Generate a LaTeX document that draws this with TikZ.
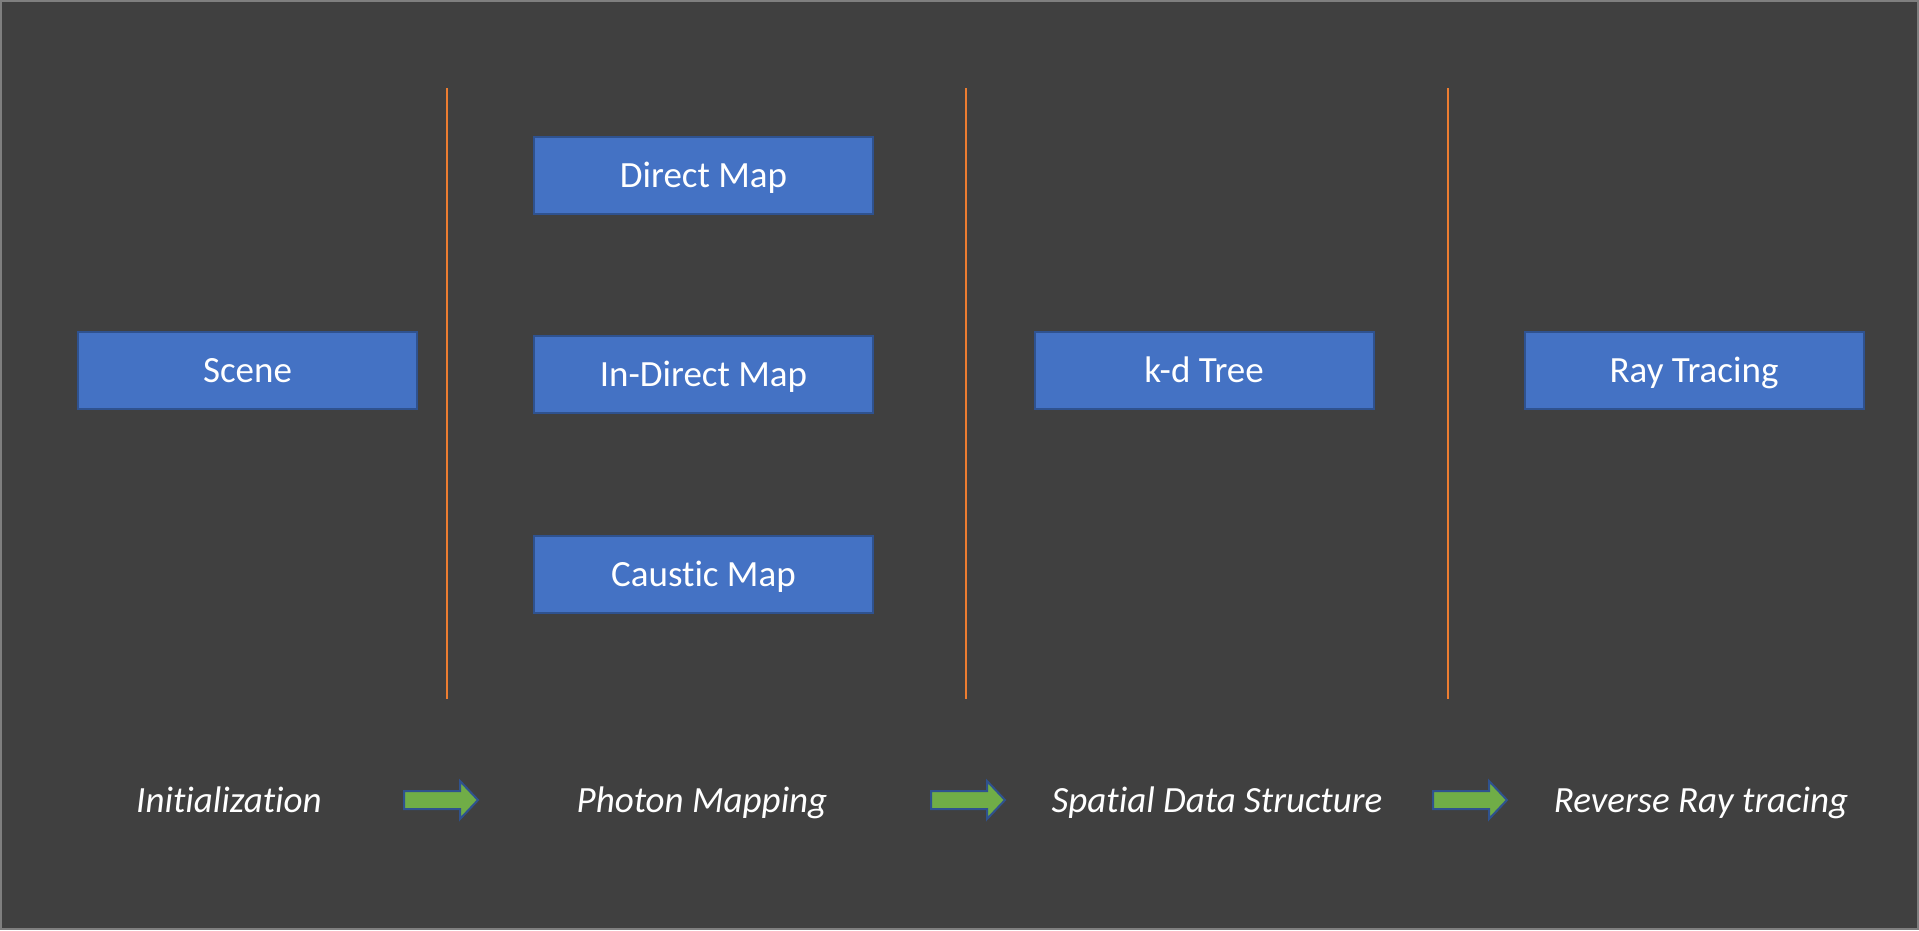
\documentclass[tikz,border=0pt]{standalone}
\usepackage{fontspec}
\setmainfont{Carlito}[Ligatures=NoCommon]
\definecolor{bg}{HTML}{404040}
\definecolor{frame}{HTML}{7F7F7F}
\definecolor{boxfill}{HTML}{4472C4}
\definecolor{boxline}{HTML}{2F528F}
\definecolor{arrowfill}{HTML}{70AD47}
\definecolor{divider}{HTML}{ED7D31}
\tikzset{
  stagebox/.style={draw=boxline, line width=2pt, fill=boxfill, minimum width=339pt, minimum height=77pt, inner sep=0pt, text height=24pt, text depth=0pt, text=white, font=\fontsize{37}{44}\selectfont},
  phaselabel/.style={text=white, inner sep=0pt, text height=24pt, text depth=0pt, font=\fontsize{37}{44}\selectfont\itshape},
  dividerline/.style={draw=divider, line width=1.6pt},
  blockarrow/.pic={\draw[draw=boxline, line width=2pt, fill=arrowfill, line join=miter]
     (0,-9) -- (56,-9) -- (56,-19) -- (74,0) -- (56,19) -- (56,9) -- (0,9) -- cycle;}
}
\begin{document}
\begin{tikzpicture}[x=1pt,y=-1pt]
\useasboundingbox (0,0) rectangle (1919,930);
\fill[bg] (0,0) rectangle (1919,930);
\draw[frame, line width=2pt] (1,1) rectangle (1918,929);

% dividers
\coordinate (d1t) at (447,88); \coordinate (d1b) at (447,699);
\coordinate (d2t) at (966,88); \coordinate (d2b) at (966,699);
\coordinate (d3t) at (1448,88); \coordinate (d3b) at (1448,699);
\draw[dividerline] (d1t) -- (d1b);
\draw[dividerline] (d2t) -- (d2b);
\draw[dividerline] (d3t) -- (d3b);

% boxes
\node[stagebox] (scene) at (247.5,370.5) {Scene};
\node[stagebox] (direct) at (703.5,175) {Direct Map};
\node[stagebox] (indirect) at (703.5,374.5) {In-Direct Map};
\node[stagebox] (caustic) at (703.5,574.5) {Caustic Map};
\node[stagebox] (kdtree) at (1204,370.5) {k-d Tree};
\node[stagebox] (raytrace) at (1694,370.5) {Ray Tracing};

% phase labels
\node[phaselabel] (init) at (229,800) {Initialization};
\node[phaselabel] (photon) at (702,800) {Photon Mapping};
\node[phaselabel] (spatial) at (1217,800) {Spatial Data Structure};
\node[phaselabel] (reverse) at (1701,800) {Reverse Ray tracing};

% block arrows
\pic at (404,800) {blockarrow};
\pic at (931,800) {blockarrow};
\pic at (1433,800) {blockarrow};
\end{tikzpicture}
\end{document}
